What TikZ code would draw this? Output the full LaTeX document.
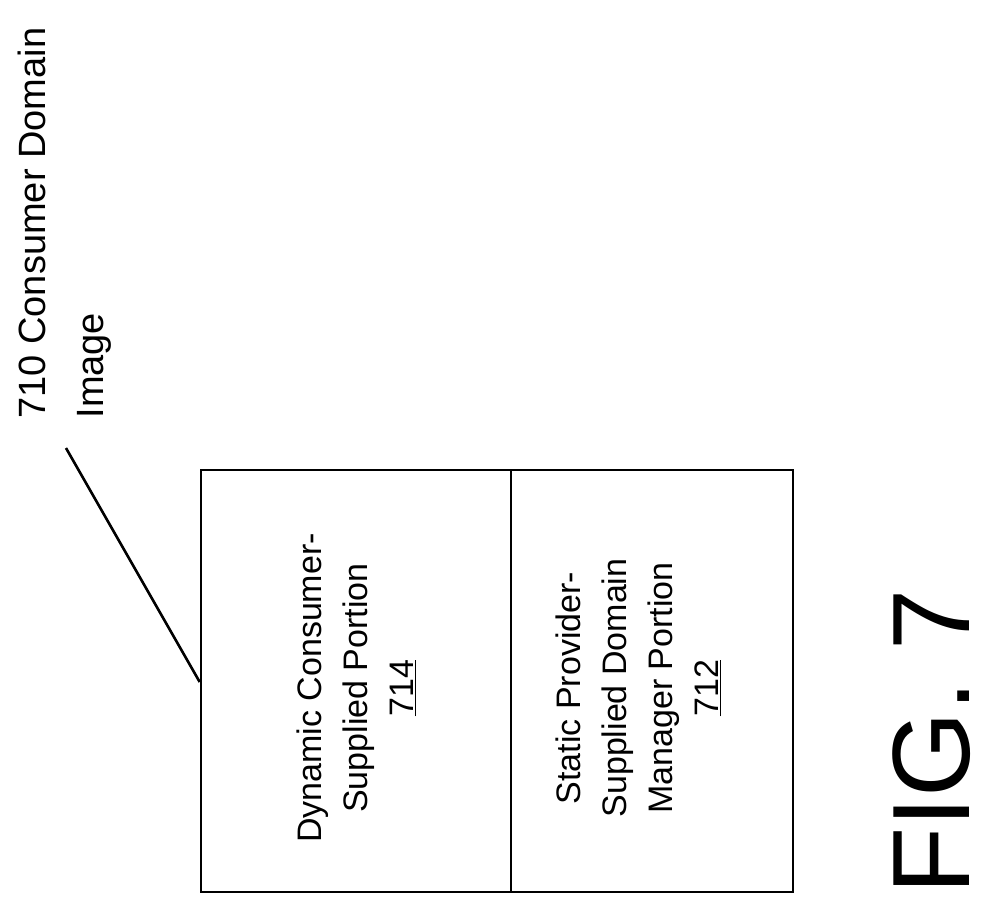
\documentclass[tikz,border=0pt]{standalone}
\usepackage{fontspec}
\setmainfont{Liberation Sans}
\begin{document}
\begin{tikzpicture}[x=1pt,y=-1pt,
  boxtext/.style={rotate=90,align=center,font=\fontsize{34}{46}\selectfont},
  part/.style={draw,line width=2.6pt}]
\useasboundingbox (0,0) rectangle (996,916);
\node[part,minimum width=310pt,minimum height=422pt,inner sep=0pt] (dyn) at (356,681) {};
\node[part,minimum width=282pt,minimum height=422pt,inner sep=0pt] (sta) at (652,681) {};
\node[boxtext] (t714) at (356,688) {Dynamic Consumer-\\Supplied Portion\\\underline{714}};
\node[boxtext] (t712) at (638,688) {Static Provider-\\Supplied Domain\\Manager Portion\\\underline{712}};
\node[rotate=90,anchor=north west,align=left,font=\fontsize{38}{58}\selectfont] (lbl) at (14,422) {710 Consumer Domain\\Image};
\coordinate (lend) at (66,448);
\draw[line width=2.6pt] (lend) -- (dyn.north west |- 0,682) ;
\node[rotate=90,font=\fontsize{110}{112}\selectfont] (fig) at (932,742) {FIG. 7};
\end{tikzpicture}
\end{document}
